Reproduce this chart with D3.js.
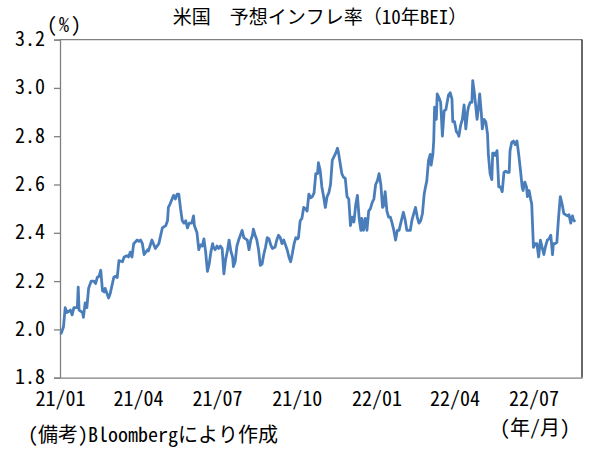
<!DOCTYPE html>
<html>
<head>
<meta charset="utf-8">
<script src="https://cdn.jsdelivr.net/npm/d3@7"></script>
<style>
  body { margin: 0; background: #fff; }
  svg text { font-family: "Noto Sans Mono CJK JP", "Noto Sans CJK JP", monospace; fill: #000; }
</style>
</head>
<body>
<svg id="chart" width="599" height="457"></svg>
<script>
// 米国10年BEI（%）
const dates = [
  "2021-01-02","2021-01-05","2021-01-07","2021-01-09","2021-01-13","2021-01-15","2021-01-17","2021-01-21","2021-01-22","2021-01-23",
  "2021-01-27","2021-01-28","2021-01-30","2021-02-01","2021-02-03","2021-02-06","2021-02-09","2021-02-11","2021-02-13","2021-02-15",
  "2021-02-17","2021-02-19","2021-02-21","2021-02-22","2021-02-26","2021-02-28","2021-03-04","2021-03-06","2021-03-08","2021-03-10",
  "2021-03-14","2021-03-16","2021-03-19","2021-03-21","2021-03-23","2021-03-25","2021-03-27","2021-03-31","2021-04-02","2021-04-04",
  "2021-04-06","2021-04-08","2021-04-12","2021-04-13","2021-04-17","2021-04-21","2021-04-25","2021-04-29","2021-05-03","2021-05-05",
  "2021-05-06","2021-05-08","2021-05-12","2021-05-14","2021-05-16","2021-05-18","2021-05-20","2021-05-22","2021-05-24","2021-05-26",
  "2021-05-28","2021-05-30","2021-06-02","2021-06-04","2021-06-05","2021-06-06","2021-06-08","2021-06-10","2021-06-12","2021-06-14",
  "2021-06-16","2021-06-18","2021-06-20","2021-06-22","2021-06-24","2021-06-26","2021-06-27","2021-06-29","2021-07-01","2021-07-03",
  "2021-07-05","2021-07-07","2021-07-09","2021-07-11","2021-07-13","2021-07-15","2021-07-17","2021-07-19","2021-07-20","2021-07-22",
  "2021-07-24","2021-07-26","2021-07-28","2021-07-30","2021-08-01","2021-08-03","2021-08-05","2021-08-07","2021-08-09","2021-08-11",
  "2021-08-12","2021-08-14","2021-08-16","2021-08-18","2021-08-20","2021-08-22","2021-08-24","2021-08-26","2021-08-28","2021-08-30",
  "2021-09-01","2021-09-03","2021-09-05","2021-09-06","2021-09-08","2021-09-10","2021-09-12","2021-09-14","2021-09-16","2021-09-18",
  "2021-09-20","2021-09-22","2021-09-24","2021-09-26","2021-09-28","2021-09-30","2021-10-02","2021-10-03","2021-10-05","2021-10-07",
  "2021-10-09","2021-10-11","2021-10-13","2021-10-15","2021-10-17","2021-10-19","2021-10-21","2021-10-23","2021-10-25","2021-10-26",
  "2021-10-28","2021-10-30","2021-11-01","2021-11-03","2021-11-05","2021-11-07","2021-11-09","2021-11-11","2021-11-13","2021-11-15",
  "2021-11-17","2021-11-18","2021-11-20","2021-11-22","2021-11-24","2021-11-26","2021-11-28","2021-11-30","2021-12-02","2021-12-04",
  "2021-12-06","2021-12-08","2021-12-10","2021-12-12","2021-12-14","2021-12-15","2021-12-17","2021-12-19","2021-12-21","2021-12-23",
  "2021-12-25","2021-12-27","2021-12-29","2021-12-31","2022-01-02","2022-01-04","2022-01-06","2022-01-08","2022-01-09","2022-01-11",
  "2022-01-13","2022-01-15","2022-01-17","2022-01-19","2022-01-21","2022-01-23","2022-01-25","2022-01-27","2022-01-29","2022-01-31",
  "2022-02-01","2022-02-03","2022-02-05","2022-02-09","2022-02-11","2022-02-15","2022-02-17","2022-02-19","2022-02-21","2022-02-23",
  "2022-02-25","2022-02-26","2022-02-28","2022-03-02","2022-03-04","2022-03-05","2022-03-07","2022-03-08","2022-03-09","2022-03-11",
  "2022-03-12","2022-03-14","2022-03-16","2022-03-18","2022-03-20","2022-03-22","2022-03-23","2022-03-25","2022-03-27","2022-03-29",
  "2022-03-30","2022-04-01","2022-04-03","2022-04-05","2022-04-06","2022-04-08","2022-04-10","2022-04-12","2022-04-14","2022-04-16",
  "2022-04-17","2022-04-19","2022-04-21","2022-04-22","2022-04-24","2022-04-25","2022-04-27","2022-04-29","2022-04-30","2022-05-02",
  "2022-05-03","2022-05-05","2022-05-07","2022-05-09","2022-05-10","2022-05-12","2022-05-14","2022-05-15","2022-05-17","2022-05-18",
  "2022-05-20","2022-05-22","2022-05-24","2022-05-26","2022-05-28","2022-05-30","2022-06-01","2022-06-03","2022-06-04","2022-06-06",
  "2022-06-08","2022-06-10","2022-06-12","2022-06-14","2022-06-16","2022-06-18","2022-06-19","2022-06-21","2022-06-23","2022-06-24",
  "2022-06-26","2022-06-28","2022-06-29","2022-07-01","2022-07-03","2022-07-05","2022-07-07","2022-07-09","2022-07-11","2022-07-13",
  "2022-07-15","2022-07-17","2022-07-19","2022-07-21","2022-07-23","2022-07-24","2022-07-26","2022-07-28","2022-07-30","2022-08-01",
  "2022-08-03","2022-08-05","2022-08-07","2022-08-09","2022-08-11","2022-08-13","2022-08-15","2022-08-16","2022-08-18"
];

const bei = [
  1.98, 2.01, 2.09, 2.07, 2.08, 2.06, 2.09, 2.09, 2.175, 2.08,
  2.07, 2.05, 2.11, 2.09, 2.17, 2.20, 2.20, 2.19, 2.215, 2.22,
  2.245, 2.16, 2.155, 2.17, 2.13, 2.15, 2.215, 2.22, 2.215, 2.285,
  2.28, 2.30, 2.305, 2.30, 2.32, 2.30, 2.355, 2.37, 2.365, 2.37,
  2.355, 2.31, 2.33, 2.325, 2.37, 2.335, 2.355, 2.42, 2.43, 2.45,
  2.505, 2.52, 2.555, 2.54, 2.56, 2.56, 2.50, 2.45, 2.44, 2.45,
  2.42, 2.44, 2.44, 2.47, 2.43, 2.42, 2.40, 2.33, 2.35, 2.345,
  2.375, 2.32, 2.24, 2.27, 2.32, 2.355, 2.34, 2.33, 2.345, 2.335,
  2.345, 2.335, 2.23, 2.29, 2.325, 2.37, 2.325, 2.30, 2.26, 2.28,
  2.345, 2.37, 2.39, 2.41, 2.38, 2.375, 2.37, 2.33, 2.37, 2.39,
  2.415, 2.39, 2.37, 2.33, 2.265, 2.27, 2.31, 2.34, 2.38, 2.375,
  2.35, 2.335, 2.34, 2.34, 2.37, 2.39, 2.38, 2.355, 2.37, 2.35,
  2.33, 2.30, 2.28, 2.315, 2.355, 2.38, 2.375, 2.38, 2.45, 2.46,
  2.505, 2.50, 2.49, 2.56, 2.545, 2.55, 2.565, 2.645, 2.645, 2.69,
  2.66, 2.59, 2.55, 2.505, 2.55, 2.565, 2.60, 2.70, 2.715, 2.73,
  2.75, 2.735, 2.69, 2.645, 2.63, 2.625, 2.55, 2.54, 2.43, 2.465,
  2.445, 2.515, 2.555, 2.46, 2.41, 2.46, 2.41, 2.46, 2.41, 2.49,
  2.50, 2.525, 2.54, 2.60, 2.615, 2.645, 2.60, 2.505, 2.51, 2.57,
  2.49, 2.465, 2.465, 2.44, 2.41, 2.37, 2.41, 2.41, 2.44, 2.47,
  2.485, 2.455, 2.41, 2.41, 2.455, 2.505, 2.465, 2.44, 2.45, 2.48,
  2.56, 2.58, 2.615, 2.70, 2.725, 2.68, 2.725, 2.78, 2.92, 2.87,
  2.975, 2.96, 2.94, 2.80, 2.905, 2.91, 2.93, 2.97, 2.98, 2.955,
  2.86, 2.86, 2.82, 2.81, 2.80, 2.845, 2.87, 2.93, 2.83, 2.90,
  2.92, 2.94, 2.94, 3.03, 2.975, 2.94, 2.87, 2.935, 2.975, 2.89,
  2.83, 2.87, 2.86, 2.81, 2.725, 2.645, 2.62, 2.73, 2.73, 2.72,
  2.74, 2.59, 2.59, 2.57, 2.65, 2.655, 2.65, 2.65, 2.74, 2.775,
  2.78, 2.765, 2.78, 2.725, 2.66, 2.59, 2.575, 2.61, 2.59, 2.55,
  2.575, 2.535, 2.52, 2.34, 2.355, 2.355, 2.30, 2.37, 2.34, 2.31,
  2.345, 2.37, 2.375, 2.39, 2.31, 2.355, 2.355, 2.36, 2.465, 2.55,
  2.52, 2.48, 2.475, 2.47, 2.475, 2.44, 2.47, 2.455, 2.445
];

const xTicks = ["2021-01-01","2021-04-01","2021-07-01","2021-10-01","2022-01-01","2022-04-01","2022-07-01"];
const yTicks = [1.8, 2.0, 2.2, 2.4, 2.6, 2.8, 3.0, 3.2];
const xDomain = ["2021-01-01", "2022-08-26"];

const parse = d3.timeParse("%Y-%m-%d");
const series = dates.map((d, i) => ({ date: parse(d), value: bei[i] }));

const svg = d3.select("#chart");
const plotLeft = 60, plotRight = 582, plotTop = 39.6, plotBottom = 377.7;

const x = d3.scaleTime().domain(xDomain.map(parse)).range([plotLeft, plotRight]);
const y = d3.scaleLinear().domain([1.8, 3.2]).range([plotBottom, plotTop]);

// frame: top gray, right dark
svg.append("line")
  .attr("x1", plotLeft).attr("x2", plotRight).attr("y1", plotTop).attr("y2", plotTop)
  .attr("stroke", "#808080").attr("stroke-width", 1.3);
svg.append("line")
  .attr("x1", plotRight).attr("x2", plotRight).attr("y1", plotTop).attr("y2", plotBottom)
  .attr("stroke", "#2a2a2a").attr("stroke-width", 1.4);

// y axis
const yAxis = svg.append("g")
  .attr("transform", `translate(${plotLeft},0)`)
  .call(d3.axisLeft(y).tickValues(yTicks).tickFormat(d3.format(".1f")).tickSize(6).tickPadding(9));
yAxis.select(".domain").attr("stroke", "#808080").attr("stroke-width", 1.3);
yAxis.selectAll(".tick line").attr("stroke", "#808080").attr("stroke-width", 1.3);
yAxis.selectAll(".tick text")
  .style("font-size", "20px")
  .attr("dy", "0.3em");

// x axis (labels only, no tick marks)
const xAxis = svg.append("g")
  .attr("transform", `translate(0,${plotBottom})`)
  .call(d3.axisBottom(x).tickValues(xTicks.map(parse)).tickFormat(d3.timeFormat("%y/%m")).tickSize(0).tickPadding(14));
xAxis.select(".domain").attr("stroke", "#808080").attr("stroke-width", 1.3);
xAxis.selectAll(".tick text").style("font-size", "20px").attr("dy", "0.71em");

// line
const line = d3.line()
  .x(d => x(d.date))
  .y(d => y(d.value));

svg.append("path")
  .datum(series)
  .attr("fill", "none")
  .attr("stroke", "#4a7ebb")
  .attr("stroke-width", 2.8)
  .attr("stroke-linejoin", "round")
  .attr("d", line);

// texts
svg.append("text")
  .attr("x", 320).attr("y", 24)
  .attr("text-anchor", "middle")
  .style("font-size", "19px")
  .text("米国　予想インフレ率（10年BEI）");

svg.append("text")
  .attr("x", 47).attr("y", 32)
  .style("font-size", "20px")
  .attr("letter-spacing", "2px")
  .text("(%)");

svg.append("text")
  .attr("x", 500).attr("y", 435)
  .style("font-size", "20px")
  .text("(年/月)");

svg.append("text")
  .attr("x", 28).attr("y", 442)
  .style("font-size", "20px")
  .text("(備考)Bloombergにより作成");
</script>
</body>
</html>
